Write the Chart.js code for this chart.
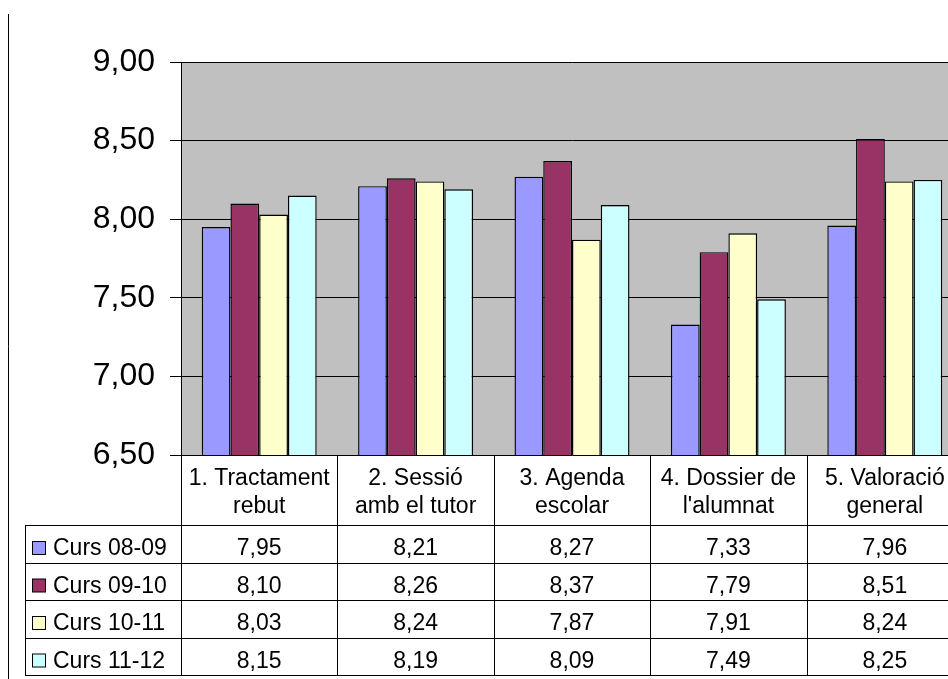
<!DOCTYPE html>
<html>
<head>
<meta charset="utf-8">
<script src="https://cdn.jsdelivr.net/npm/chart.js@4/dist/chart.umd.min.js"></script>
<style>
  html, body { margin: 0; padding: 0; background: #fff; overflow: hidden; }
  #wrap { position: relative; width: 964px; height: 679px; }
</style>
</head>
<body>
<div id="wrap"><canvas id="c"></canvas></div>
<script>
// ---- data ----
const categories = [
  ["1. Tractament", "rebut"],
  ["2. Sessió", "amb el tutor"],
  ["3. Agenda", "escolar"],
  ["4. Dossier de", "l'alumnat"],
  ["5. Valoració", "general"]
];
const seriesNames = ["Curs 08-09", "Curs 09-10", "Curs 10-11", "Curs 11-12"];
const curs0809 = [7.95, 8.21, 8.27, 7.33, 7.96];
const curs0910 = [8.10, 8.26, 8.37, 7.79, 8.51];
const curs1011 = [8.03, 8.24, 7.87, 7.91, 8.24];
const curs1112 = [8.15, 8.19, 8.09, 7.49, 8.25];
const yTicks = [6.5, 7.0, 7.5, 8.0, 8.5, 9.0];

const seriesValues = [curs0809, curs0910, curs1011, curs1112];
const seriesColors = ["#9999FF", "#993366", "#FFFFCC", "#CCFFFF"];
const FONT = '"Liberation Sans", Arial, sans-serif';
const fmt = v => v.toFixed(2).replace('.', ',');

const tablePlugin = {
  id: 'tablePlugin',
  beforeDraw(chart) {
    const a = chart.chartArea, ctx = chart.ctx;
    ctx.save();
    ctx.fillStyle = '#C0C0C0';
    ctx.fillRect(a.left, a.top, a.right - a.left, a.bottom - a.top);
    ctx.restore();
  },
  afterDraw(chart) {
    const a = chart.chartArea, ctx = chart.ctx;
    const xs = chart.scales.x;
    const n = categories.length;
    const cw = (a.right - a.left) / n;
    const headerTop = a.bottom;
    const tableTop = 525;
    const rowH = 37.5;
    const tableLeft = 25;
    const bottom = tableTop + rowH * seriesNames.length;
    ctx.save();
    // outer chart border (left)
    ctx.strokeStyle = '#000';
    ctx.lineWidth = 1;
    ctx.beginPath();
    ctx.moveTo(8.5, 14); ctx.lineTo(8.5, 679);
    ctx.stroke();
    // column boundaries
    ctx.beginPath();
    for (let i = 0; i <= n; i++) {
      const x = Math.round(xs.getPixelForValue(i) - cw / 2) + 0.5;
      ctx.moveTo(x, headerTop); ctx.lineTo(x, bottom);
    }
    ctx.moveTo(tableLeft + 0.5, tableTop); ctx.lineTo(tableLeft + 0.5, bottom);
    // row lines
    for (let r = 0; r <= seriesNames.length; r++) {
      const y = Math.round(tableTop + r * rowH) + 0.5;
      ctx.moveTo(tableLeft, y); ctx.lineTo(a.right, y);
    }
    ctx.stroke();
    // header labels
    ctx.fillStyle = '#000';
    ctx.font = '23px ' + FONT;
    ctx.textAlign = 'center';
    ctx.textBaseline = 'alphabetic';
    categories.forEach((lines, i) => {
      const cx = xs.getPixelForValue(i);
      lines.forEach((t, k) => ctx.fillText(t, cx, 485 + k * 28));
    });
    // values
    seriesValues.forEach((vals, r) => {
      const by = 555 + r * rowH;
      vals.forEach((v, i) => {
        ctx.fillText(fmt(v), xs.getPixelForValue(i), by);
      });
    });
    // legend keys + names
    ctx.textAlign = 'left';
    seriesNames.forEach((name, r) => {
      const by = 555 + r * rowH;
      ctx.fillStyle = seriesColors[r];
      ctx.fillRect(32.5, by - 13.5, 13, 13);
      ctx.strokeStyle = '#000';
      ctx.strokeRect(32.5, by - 13.5, 13, 13);
      ctx.fillStyle = '#000';
      ctx.fillText(name, 53, by);
    });
    ctx.restore();
  }
};

new Chart(document.getElementById('c'), {
  type: 'bar',
  data: {
    labels: categories,
    datasets: seriesNames.map((name, i) => ({
      label: name,
      data: seriesValues[i],
      backgroundColor: seriesColors[i],
      borderColor: '#000',
      borderWidth: 1.4,
      borderSkipped: false,
      categoryPercentage: 0.735,
      barPercentage: 1.0
    }))
  },
  options: {
    responsive: true,
    maintainAspectRatio: false,
    animation: false,
    layout: { padding: { top: 62, bottom: 224, left: 0, right: 1 } },
    plugins: { legend: { display: false }, tooltip: { enabled: false } },
    scales: {
      x: { display: false },
      y: {
        min: 6.5, max: 9.0,
        afterFit(scale) { scale.width = 181; },
        afterBuildTicks(scale) { scale.ticks = yTicks.map(v => ({ value: v })); },
        border: { color: '#000', width: 1 },
        grid: { color: '#000', lineWidth: 1, drawTicks: true, tickLength: 11, tickColor: '#000' },
        ticks: {
          padding: 15,
          color: '#000',
          font: { family: FONT, size: 32 },
          callback: v => fmt(v)
        }
      }
    }
  },
  plugins: [tablePlugin]
});
</script>
</body>
</html>
